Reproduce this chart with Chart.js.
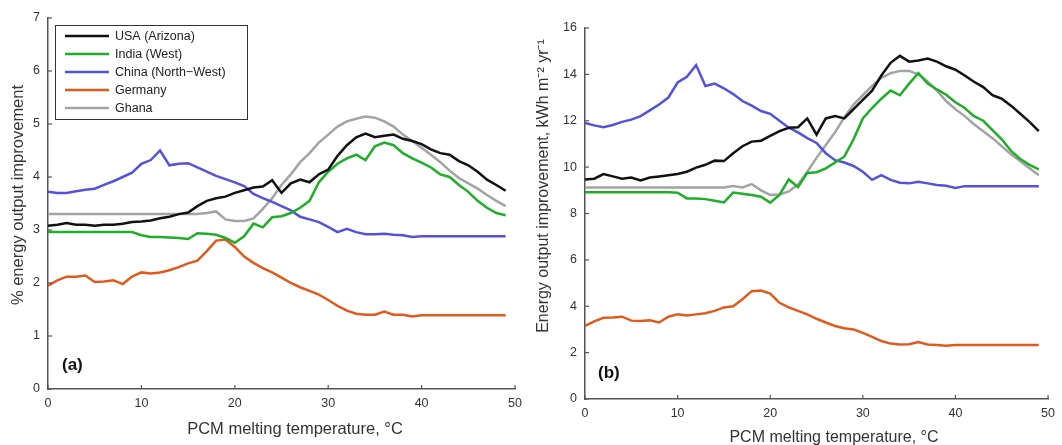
<!DOCTYPE html>
<html>
<head>
<meta charset="utf-8">
<script src="https://cdn.jsdelivr.net/npm/chart.js@4.4.1/dist/chart.umd.min.js"></script>
<style>
  html, body { margin: 0; padding: 0; background: #ffffff; }
  #wrap { position: relative; width: 1062px; height: 445px; overflow: hidden; }
  .panel { position: absolute; top: 0; width: 531px; height: 445px; }
  #pa { left: 0; }
  #pb { left: 531px; }
</style>
</head>
<body>
<div id="wrap">
  <div class="panel" id="pa"><canvas id="ca"></canvas></div>
  <div class="panel" id="pb"><canvas id="cb"></canvas></div>
</div>
<script>
// ---------- DATA ----------
const temps = [0,1,2,3,4,5,6,7,8,9,10,11,12,13,14,15,16,17,18,19,20,21,22,23,24,25,26,27,28,29,30,31,32,33,34,35,36,37,38,39,40,41,42,43,44,45,46,47,48,49];
const seriesNames = ['USA (Arizona)', 'India (West)', 'China (North\u2212West)', 'Germany', 'Ghana'];
const xTicks = [0, 10, 20, 30, 40, 50];
const yTicksA = [0, 1, 2, 3, 4, 5, 6, 7];
const yTicksB = [0, 2, 4, 6, 8, 10, 12, 14, 16];
const xTitle = 'PCM melting temperature, \u00B0C';
const yTitleA = '% energy output improvement';
const yTitleB = 'Energy output improvement, kWh m\u207B\u00B2 yr\u207B\u00B9';

// (a) % energy output improvement
const usaPct = [3.08,3.1,3.13,3.1,3.1,3.08,3.1,3.1,3.12,3.15,3.16,3.18,3.22,3.25,3.3,3.33,3.45,3.55,3.6,3.63,3.7,3.75,3.8,3.82,3.94,3.7,3.88,3.95,3.9,4.05,4.14,4.4,4.6,4.75,4.82,4.75,4.78,4.8,4.72,4.68,4.62,4.52,4.45,4.42,4.3,4.22,4.1,3.95,3.85,3.74];
const indiaPct = [2.96,2.96,2.96,2.96,2.96,2.96,2.96,2.96,2.96,2.96,2.9,2.87,2.87,2.86,2.85,2.83,2.94,2.93,2.91,2.85,2.76,2.88,3.12,3.05,3.24,3.26,3.32,3.42,3.55,3.9,4.1,4.25,4.35,4.42,4.32,4.58,4.65,4.6,4.45,4.35,4.27,4.18,4.05,4.0,3.85,3.72,3.55,3.42,3.32,3.28];
const chinaPct = [3.72,3.7,3.7,3.73,3.76,3.78,3.85,3.92,4.0,4.08,4.25,4.32,4.5,4.22,4.25,4.26,4.18,4.1,4.02,3.96,3.9,3.83,3.68,3.6,3.53,3.45,3.37,3.25,3.2,3.15,3.06,2.96,3.02,2.96,2.92,2.92,2.93,2.91,2.9,2.87,2.88,2.88,2.88,2.88,2.88,2.88,2.88,2.88,2.88,2.88];
const germanyPct = [1.95,2.05,2.12,2.12,2.14,2.02,2.03,2.05,1.98,2.12,2.2,2.18,2.2,2.24,2.3,2.37,2.42,2.6,2.8,2.82,2.68,2.5,2.38,2.28,2.2,2.1,2.0,1.92,1.85,1.78,1.68,1.57,1.48,1.42,1.4,1.4,1.46,1.4,1.4,1.37,1.39,1.39,1.39,1.39,1.39,1.39,1.39,1.39,1.39,1.39];
const ghanaPct = [3.3,3.3,3.3,3.3,3.3,3.3,3.3,3.3,3.3,3.3,3.3,3.3,3.3,3.3,3.3,3.3,3.3,3.32,3.35,3.2,3.17,3.17,3.22,3.4,3.6,3.85,4.05,4.28,4.45,4.65,4.8,4.95,5.05,5.1,5.14,5.12,5.05,4.95,4.8,4.68,4.55,4.42,4.28,4.12,3.98,3.88,3.78,3.66,3.55,3.45];

// (b) energy output improvement, kWh m-2 yr-1
const usaKwh = [9.47,9.5,9.7,9.6,9.5,9.55,9.43,9.55,9.6,9.65,9.7,9.8,9.98,10.1,10.28,10.26,10.6,10.9,11.1,11.14,11.35,11.55,11.7,11.72,12.1,11.4,12.1,12.2,12.1,12.5,12.9,13.3,13.95,14.5,14.8,14.55,14.6,14.68,14.55,14.35,14.2,13.95,13.68,13.45,13.1,12.95,12.65,12.3,11.95,11.55];
const indiaKwh = [8.92,8.92,8.92,8.92,8.92,8.92,8.92,8.92,8.92,8.92,8.9,8.65,8.65,8.62,8.55,8.48,8.9,8.85,8.8,8.72,8.47,8.8,9.47,9.14,9.75,9.78,9.95,10.2,10.45,11.2,12.1,12.55,12.95,13.3,13.1,13.6,14.05,13.6,13.35,13.12,12.8,12.55,12.2,12.0,11.6,11.2,10.7,10.35,10.1,9.9];
const chinaKwh = [11.9,11.8,11.72,11.82,11.95,12.05,12.2,12.45,12.7,13.0,13.65,13.9,14.4,13.5,13.6,13.4,13.15,12.85,12.65,12.42,12.3,12.0,11.7,11.5,11.25,11.04,10.6,10.3,10.2,10.05,9.8,9.45,9.65,9.45,9.33,9.3,9.37,9.3,9.23,9.2,9.1,9.18,9.18,9.18,9.18,9.18,9.18,9.18,9.18,9.18];
const germanyKwh = [3.15,3.35,3.5,3.52,3.55,3.38,3.36,3.4,3.3,3.55,3.65,3.6,3.65,3.7,3.8,3.95,4.0,4.3,4.65,4.68,4.55,4.15,3.95,3.8,3.65,3.46,3.3,3.15,3.05,3.0,2.85,2.68,2.5,2.39,2.35,2.36,2.46,2.35,2.33,2.3,2.33,2.33,2.33,2.33,2.33,2.33,2.33,2.33,2.33,2.33];
const ghanaKwh = [9.12,9.12,9.12,9.12,9.12,9.12,9.12,9.12,9.12,9.12,9.12,9.12,9.12,9.12,9.12,9.12,9.18,9.12,9.27,9.0,8.8,8.82,8.95,9.25,9.8,10.4,10.95,11.5,12.15,12.7,13.1,13.5,13.85,14.05,14.15,14.15,14.0,13.7,13.3,12.85,12.5,12.2,11.85,11.55,11.25,10.9,10.55,10.25,9.95,9.65];

const colors = ['#111111', '#1fae27', '#5252da', '#e05a1e', '#a3a3a3'];

// ---------- HELPERS ----------
const FONT = '"Liberation Sans", Arial, Helvetica, sans-serif';
const TXT = '#333333';

function makeDatasets(arrs) {
  return arrs.map((arr, i) => ({
    label: seriesNames[i],
    data: arr.map((v, k) => ({ x: temps[k], y: v })),
    borderColor: colors[i],
    backgroundColor: colors[i],
    borderWidth: 2.5,
    pointRadius: 0,
    tension: 0,
    fill: false
  }));
}

// inward tick marks, axis titles, panel tag, optional legend
function panelPlugin(cfg) {
  return {
    id: 'panel_' + cfg.tag,
    afterDraw(chart) {
      const ctx = chart.ctx;
      const ca = chart.chartArea;
      const xs = chart.scales.x, ys = chart.scales.y;
      ctx.save();
      ctx.strokeStyle = '#555555';
      ctx.lineWidth = 1.2;
      xs.ticks.forEach((t) => {
        const px = xs.getPixelForValue(t.value);
        ctx.beginPath(); ctx.moveTo(px, ca.bottom); ctx.lineTo(px, ca.bottom - 4); ctx.stroke();
      });
      ys.ticks.forEach((t) => {
        const py = ys.getPixelForValue(t.value);
        ctx.beginPath(); ctx.moveTo(ca.left, py); ctx.lineTo(ca.left + 4, py); ctx.stroke();
      });
      // axis titles
      ctx.fillStyle = TXT;
      ctx.textAlign = 'center';
      ctx.textBaseline = 'middle';
      ctx.font = cfg.titleSize + 'px ' + FONT;
      ctx.fillText(xTitleText(cfg), cfg.xTitleX, cfg.xTitleY);
      ctx.save();
      ctx.translate(cfg.yTitleX, cfg.yTitleY);
      ctx.rotate(-Math.PI / 2);
      ctx.fillText(cfg.yTitle, 0, 0);
      ctx.restore();
      // panel tag
      ctx.fillStyle = '#111111';
      ctx.font = 'bold 17px ' + FONT;
      ctx.textAlign = 'left';
      ctx.fillText(cfg.tag, ca.left + cfg.tagDx, ca.bottom - cfg.tagDy);
      if (cfg.legend) {
        const bx = ca.left + 7, by = ca.top + 7, bw = 192, bh = 94;
        ctx.strokeStyle = '#333333';
        ctx.lineWidth = 1;
        ctx.fillStyle = '#ffffff';
        ctx.fillRect(bx, by, bw, bh);
        ctx.strokeRect(bx + 0.5, by + 0.5, bw, bh);
        ctx.font = '12.5px ' + FONT;
        chart.data.datasets.forEach((ds, i) => {
          const ry = by + 11 + i * 18;
          ctx.strokeStyle = ds.borderColor;
          ctx.lineWidth = 2.5;
          ctx.beginPath(); ctx.moveTo(bx + 10, ry); ctx.lineTo(bx + 54, ry); ctx.stroke();
          ctx.fillStyle = '#222222';
          ctx.fillText(ds.label, bx + 60, ry + 1);
        });
      }
      ctx.restore();
    }
  };
}
function xTitleText() { return xTitle; }

function makeChart(canvasId, arrs, yTicks, geom, cfg) {
  return new Chart(document.getElementById(canvasId), {
    type: 'line',
    data: { datasets: makeDatasets(arrs) },
    options: {
      responsive: true,
      maintainAspectRatio: false,
      animation: false,
      layout: { padding: { left: geom.padL, right: geom.padR, top: geom.padT, bottom: geom.padB } },
      plugins: { legend: { display: false }, tooltip: { enabled: false } },
      scales: {
        x: {
          type: 'linear', min: xTicks[0], max: xTicks[xTicks.length - 1],
          afterBuildTicks: (s) => { s.ticks = xTicks.map(v => ({ value: v })); },
          afterFit: (s) => { s.height = geom.xH; },
          grid: { drawOnChartArea: false, drawTicks: false },
          border: { display: true, color: '#555555', width: 1.5 },
          ticks: { color: TXT, font: { family: FONT, size: 12.5 }, padding: 7, maxRotation: 0 }
        },
        y: {
          type: 'linear', min: yTicks[0], max: yTicks[yTicks.length - 1],
          afterBuildTicks: (s) => { s.ticks = yTicks.map(v => ({ value: v })); },
          afterFit: (s) => { s.width = geom.yW; },
          grid: { drawOnChartArea: false, drawTicks: false },
          border: { display: true, color: '#555555', width: 1.5 },
          ticks: { color: TXT, font: { family: FONT, size: 12.5 }, padding: 8 }
        }
      }
    },
    plugins: [panelPlugin(cfg)]
  });
}

makeChart('ca', [usaPct, indiaPct, chinaPct, germanyPct, ghanaPct], yTicksA,
  { padL: 10, padR: 16, padT: 18, padB: 4, xH: 52, yW: 38 },
  { tag: '(a)', tagDx: 14, tagDy: 24, legend: true, titleSize: 16.5,
    yTitle: yTitleA, xTitleX: 295, xTitleY: 429, yTitleX: 18, yTitleY: 195 });

makeChart('cb', [usaKwh, indiaKwh, chinaKwh, germanyKwh, ghanaKwh], yTicksB,
  { padL: 4, padR: 13, padT: 28, padB: 0, xH: 46, yW: 50 },
  { tag: '(b)', tagDx: 13, tagDy: 26, legend: false, titleSize: 16,
    yTitle: yTitleB, xTitleX: 303, xTitleY: 438, yTitleX: 13, yTitleY: 186 });
</script>
</body>
</html>
